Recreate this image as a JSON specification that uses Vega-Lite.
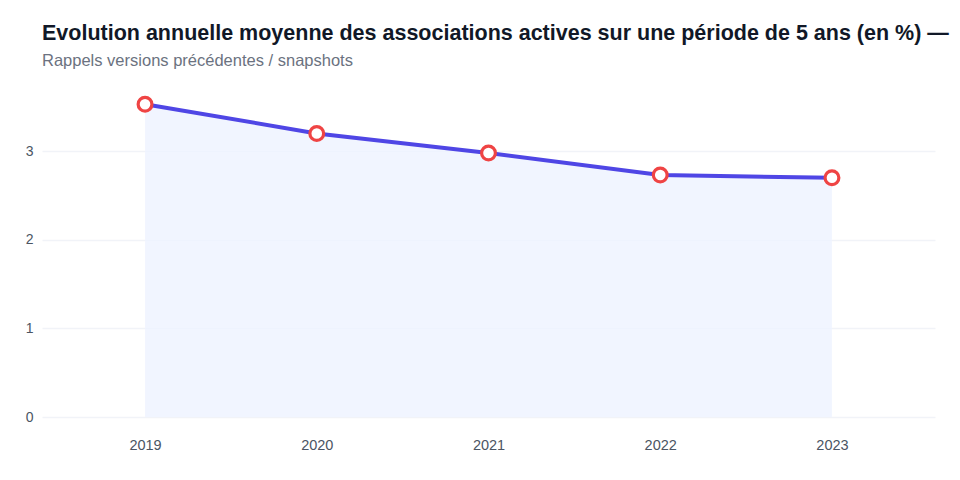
{
  "$schema": "https://vega.github.io/schema/vega-lite/v6.json",
  "autosize": {"type": "none"},
  "width": 893,
  "height": 327,
  "padding": {"left": 42, "top": 90, "right": 25, "bottom": 63},
  "background": "#ffffff",
  "title": {
    "text": "Evolution annuelle moyenne des associations actives sur une période de 5 ans (en %) —",
    "subtitle": "Rappels versions précédentes / snapshots",
    "anchor": "start",
    "frame": "group",
    "font": "Liberation Sans",
    "fontSize": 21.5,
    "fontWeight": "bold",
    "color": "#111827",
    "subtitleFont": "Liberation Sans",
    "subtitleFontSize": 16.5,
    "subtitleColor": "#6b7280",
    "subtitlePadding": 8,
    "offset": 21
  },
  "data": {
    "values": [
      {"annee": "2019", "valeur": 3.53},
      {"annee": "2020", "valeur": 3.20},
      {"annee": "2021", "valeur": 2.98},
      {"annee": "2022", "valeur": 2.73},
      {"annee": "2023", "valeur": 2.70}
    ]
  },
  "encoding": {
    "x": {
      "field": "annee",
      "type": "ordinal",
      "scale": {"type": "point", "padding": 0.6},
      "axis": {
        "title": null,
        "labelAngle": 0,
        "ticks": false,
        "domain": false,
        "grid": false,
        "labelPadding": 21,
        "labelFont": "Liberation Sans",
        "labelFontSize": 14.5,
        "labelColor": "#4b5563"
      }
    },
    "y": {
      "field": "valeur",
      "type": "quantitative",
      "scale": {"domain": [0, 3.69], "nice": false},
      "axis": {
        "title": null,
        "values": [0, 1, 2, 3],
        "ticks": false,
        "domain": false,
        "labelPadding": 9,
        "labelFont": "Liberation Sans",
        "labelFontSize": 14,
        "labelColor": "#4b5563",
        "gridColor": "#f1f3f8",
        "gridWidth": 1.5
      }
    }
  },
  "layer": [
    {"mark": {"type": "area", "color": "#eef2ff", "opacity": 0.8}},
    {"mark": {"type": "line", "color": "#4f46e5", "strokeWidth": 4}},
    {"mark": {"type": "point", "filled": true, "fill": "#ffffff", "stroke": "#ef4444", "strokeWidth": 3.2, "size": 190, "opacity": 1}}
  ],
  "config": {"view": {"stroke": null}}
}
